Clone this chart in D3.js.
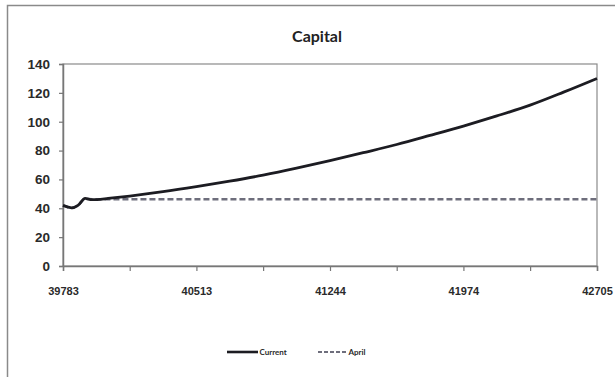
<!DOCTYPE html>
<html>
<head>
<meta charset="utf-8">
<script src="https://cdn.jsdelivr.net/npm/d3@7"></script>
<style>
  html, body { margin: 0; padding: 0; background: #fff; }
  svg { display: block; font-family: Lato, "Open Sans", sans-serif; }
</style>
</head>
<body>
<svg id="chart" width="615" height="377"></svg>
<script>
// Serial day numbers along the horizontal axis
const currentDays = [39783, 39810, 39832, 39865, 39904, 39942, 39970, 40030, 40148, 40330, 40513, 40695, 40878, 41061, 41244, 41426, 41609, 41791, 41974, 42157, 42339, 42522, 42705];
const currentValues = [42.0, 40.8, 40.3, 42.0, 46.8, 46.0, 46.0, 46.8, 48.5, 51.5, 55.0, 58.8, 63.0, 67.8, 73.0, 78.5, 84.2, 90.5, 97.0, 104.0, 111.5, 120.5, 130.0];

const aprilDays = [39783, 39810, 39832, 39865, 39904, 39942, 42705];
const aprilValues = [42.0, 40.8, 40.3, 42.0, 46.5, 46.3, 46.3];

const xTickValues = [39783, 40148, 40513, 40878, 41244, 41609, 41974, 42339, 42705];
const xLabelValues = [39783, 40513, 41244, 41974, 42705];
const yTickValues = [0, 20, 40, 60, 80, 100, 120, 140];

const seriesNames = ["Current", "April"];
const chartTitle = "Capital";

const svg = d3.select("#chart");
const W = 615, H = 377;
const margin = { left: 63, right: 18, top: 64, bottom: 111 };
const plotW = W - margin.left - margin.right;
const plotH = H - margin.top - margin.bottom;

// Outer chart frame (left and top edges)
svg.append("path")
  .attr("d", `M7.5,${H} L7.5,5.5 L${W},5.5`)
  .attr("fill", "none")
  .attr("stroke", "#8a8a8a")
  .attr("stroke-width", 1.5);

const x = d3.scaleLinear().domain([39783, 42705]).range([margin.left, margin.left + plotW]);
const y = d3.scaleLinear().domain([0, 140]).range([margin.top + plotH, margin.top]);

// Plot area border
svg.append("rect")
  .attr("x", margin.left).attr("y", margin.top)
  .attr("width", plotW).attr("height", plotH)
  .attr("fill", "none").attr("stroke", "#8a8a8a").attr("stroke-width", 1.2);

// Y axis
const yAxis = svg.append("g")
  .attr("transform", `translate(${margin.left},0)`)
  .call(d3.axisLeft(y).tickValues(yTickValues).tickSize(4).tickPadding(9));
yAxis.select(".domain").attr("stroke", "#777").attr("stroke-width", 1.5);
yAxis.selectAll(".tick line").attr("stroke", "#777").attr("stroke-width", 1.2);
yAxis.selectAll("text")
  .attr("fill", "#2a2a2a").attr("font-size", 13.5).attr("font-weight", 700);

// X axis
const xAxis = svg.append("g")
  .attr("transform", `translate(0,${margin.top + plotH})`)
  .call(d3.axisBottom(x).tickValues(xTickValues).tickSize(5).tickPadding(16)
    .tickFormat(d => xLabelValues.includes(d) ? String(d) : ""));
xAxis.select(".domain").attr("stroke", "#777").attr("stroke-width", 1.5);
xAxis.selectAll(".tick line").attr("stroke", "#777").attr("stroke-width", 1.2);
xAxis.selectAll("text")
  .attr("fill", "#2a2a2a").attr("font-size", 11).attr("font-weight", 700);

const line = d3.line().x(d => x(d[0])).y(d => y(d[1])).curve(d3.curveMonotoneX);

const aprilData = aprilDays.map((d, i) => [d, aprilValues[i]]);
const currentData = currentDays.map((d, i) => [d, currentValues[i]]);

svg.append("path")
  .datum(aprilData)
  .attr("d", line)
  .attr("fill", "none")
  .attr("stroke", "#6e6e7c")
  .attr("stroke-width", 2.6)
  .attr("stroke-dasharray", "6,3");

svg.append("path")
  .datum(currentData)
  .attr("d", line)
  .attr("fill", "none")
  .attr("stroke", "#1c1c22")
  .attr("stroke-width", 2.8)
  .attr("stroke-linejoin", "round");

// Title
svg.append("text")
  .attr("x", 317).attr("y", 42)
  .attr("text-anchor", "middle")
  .attr("font-size", 16).attr("font-weight", 700)
  .attr("fill", "#222")
  .text(chartTitle);

// Legend
const legend = svg.append("g").attr("transform", "translate(0,352)");
const legendItems = [
  { name: seriesNames[0], x0: 227, x1: 258, color: "#1c1c22", dash: null, w: 2.6 },
  { name: seriesNames[1], x0: 318, x1: 347, color: "#6e6e7c", dash: "4,2", w: 2 }
];
legendItems.forEach(it => {
  legend.append("line")
    .attr("x1", it.x0).attr("x2", it.x1).attr("y1", 0).attr("y2", 0)
    .attr("stroke", it.color).attr("stroke-width", it.w)
    .attr("stroke-dasharray", it.dash);
  legend.append("text")
    .attr("x", it.x1 + 1.5).attr("y", 3)
    .attr("font-size", 8).attr("font-weight", 700)
    .attr("fill", "#2a2a2a")
    .text(it.name);
});
</script>
</body>
</html>
